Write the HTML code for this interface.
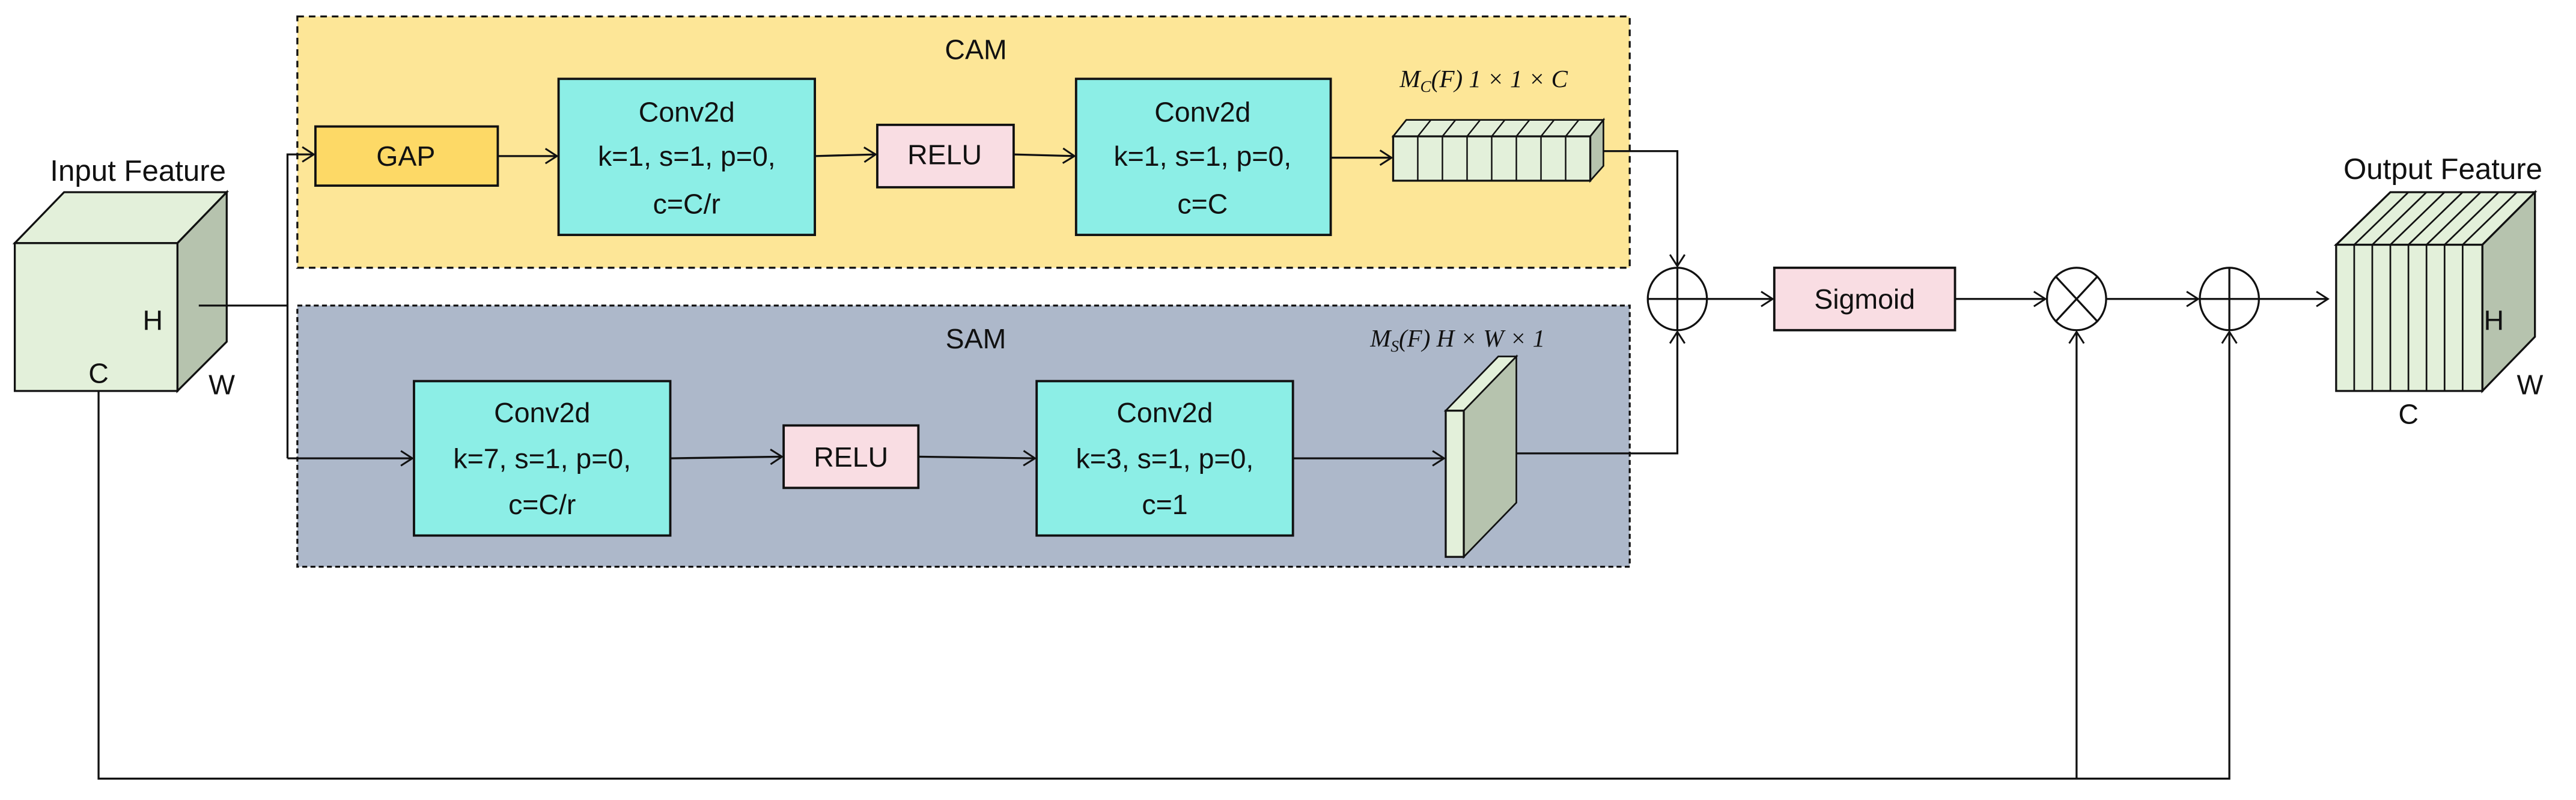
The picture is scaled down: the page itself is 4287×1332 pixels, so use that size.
<!DOCTYPE html>
<html><head><meta charset="utf-8"><style>
html,body{margin:0;padding:0;background:#fff;}
svg{display:block;}
text{font-family:"Liberation Sans",sans-serif;fill:#111;}
.m{font-family:"Liberation Serif",serif;font-style:italic;}
</style></head><body>
<svg width="4287" height="1332" viewBox="0 0 1568 487" preserveAspectRatio="none" xmlns="http://www.w3.org/2000/svg">
<defs>
<marker id="a" markerWidth="10" markerHeight="10" refX="8" refY="5" orient="auto" markerUnits="userSpaceOnUse">
<path d="M1,0.5 L8,5 L1,9.5" fill="none" stroke="#111" stroke-width="1.1"/>
</marker>
</defs>
<g stroke="#111" stroke-width="1.2">
<rect x="181" y="10" width="811" height="153" fill="#fde697" stroke-dasharray="4,3"/>
<rect x="181" y="186" width="811" height="159" fill="#adb8ca" stroke-dasharray="3,2"/>
<polygon points="9,148 39,117 138,117 108,148" fill="#e3f0da"/>
<polygon points="108,148 138,117 138,208 108,238" fill="#b6c3ae"/>
<rect x="9" y="148" width="99" height="90" fill="#e3f0da"/>
<rect x="192" y="77" width="111" height="36" fill="#fdd966" stroke-width="1.4"/>
<rect x="340" y="48" width="156" height="95" fill="#8ceee6" stroke-width="1.4"/>
<rect x="534" y="76" width="83" height="38" fill="#f9dde3" stroke-width="1.4"/>
<rect x="655" y="48" width="155" height="95" fill="#8ceee6" stroke-width="1.4"/>
<rect x="252" y="232" width="156" height="94" fill="#8ceee6" stroke-width="1.4"/>
<rect x="477" y="259" width="82" height="38" fill="#f9dde3" stroke-width="1.4"/>
<rect x="631" y="232" width="156" height="94" fill="#8ceee6" stroke-width="1.4"/>
<rect x="1080" y="163" width="110" height="38" fill="#f9dde3" stroke-width="1.4"/>
<polygon points="848,83 856,73 976,73 968,83" fill="#e3f0da" stroke-width="1"/>
<polygon points="968,83 976,73 976,101 968,110" fill="#b6c3ae" stroke-width="1"/>
<rect x="848" y="83" width="120" height="27" fill="#e3f0da" stroke-width="1.2"/>
<g stroke-width="0.9">
<line x1="863" y1="83" x2="863" y2="110"/><line x1="878" y1="83" x2="878" y2="110"/><line x1="893" y1="83" x2="893" y2="110"/><line x1="908" y1="83" x2="908" y2="110"/><line x1="923" y1="83" x2="923" y2="110"/><line x1="938" y1="83" x2="938" y2="110"/><line x1="953" y1="83" x2="953" y2="110"/>
<line x1="863" y1="83" x2="871" y2="73"/><line x1="878" y1="83" x2="886" y2="73"/><line x1="893" y1="83" x2="901" y2="73"/><line x1="908" y1="83" x2="916" y2="73"/><line x1="923" y1="83" x2="931" y2="73"/><line x1="938" y1="83" x2="946" y2="73"/><line x1="953" y1="83" x2="961" y2="73"/>
</g>
<polygon points="880,250 891,250 923,217 912,217" fill="#e3f0da" stroke-width="1"/>
<polygon points="891,250 923,217 923,306 891,339" fill="#b6c3ae" stroke-width="1"/>
<rect x="880" y="250" width="11" height="89" fill="#e3f0da"/>
<polygon points="1422,149 1455,117 1543,117 1511,149" fill="#e3f0da"/>
<polygon points="1511,149 1543,117 1543,205 1511,238" fill="#b6c3ae"/>
<rect x="1422" y="149" width="89" height="89" fill="#e3f0da"/>
<g stroke-width="1">
<line x1="1433" y1="149" x2="1433" y2="238"/><line x1="1444" y1="149" x2="1444" y2="238"/><line x1="1455" y1="149" x2="1455" y2="238"/><line x1="1466" y1="149" x2="1466" y2="238"/><line x1="1477" y1="149" x2="1477" y2="238"/><line x1="1488" y1="149" x2="1488" y2="238"/><line x1="1499" y1="149" x2="1499" y2="238"/>
<line x1="1433" y1="149" x2="1466" y2="117"/><line x1="1444" y1="149" x2="1477" y2="117"/><line x1="1455" y1="149" x2="1488" y2="117"/><line x1="1466" y1="149" x2="1499" y2="117"/><line x1="1477" y1="149" x2="1510" y2="117"/><line x1="1488" y1="149" x2="1521" y2="117"/><line x1="1499" y1="149" x2="1532" y2="117"/>
</g>
<ellipse cx="1021" cy="182" rx="18" ry="19" fill="#fff"/>
<line x1="1003" y1="182" x2="1039" y2="182"/><line x1="1021" y1="163" x2="1021" y2="201"/>
<ellipse cx="1264" cy="182" rx="18" ry="19" fill="#fff"/>
<line x1="1251" y1="168" x2="1277" y2="196"/><line x1="1277" y1="168" x2="1251" y2="196"/>
<ellipse cx="1357" cy="182" rx="18" ry="19" fill="#fff"/>
<line x1="1339" y1="182" x2="1375" y2="182"/><line x1="1357" y1="163" x2="1357" y2="201"/>
</g>
<g stroke="#111" stroke-width="1.2" fill="none">
<polyline points="121,186 175,186"/>
<polyline points="175,279 175,94 191,94" marker-end="url(#a)"/>
<polyline points="175,279 251,279" marker-end="url(#a)"/>
<line x1="303" y1="95" x2="339" y2="95" marker-end="url(#a)"/>
<line x1="496" y1="95" x2="533" y2="94" marker-end="url(#a)"/>
<line x1="617" y1="94" x2="654" y2="95" marker-end="url(#a)"/>
<line x1="810" y1="96" x2="847" y2="96" marker-end="url(#a)"/>
<polyline points="976,92 1021,92 1021,162" marker-end="url(#a)"/>
<line x1="408" y1="279" x2="476" y2="278" marker-end="url(#a)"/>
<line x1="559" y1="278" x2="630" y2="279" marker-end="url(#a)"/>
<line x1="787" y1="279" x2="879" y2="279" marker-end="url(#a)"/>
<polyline points="923,276 1021,276 1021,202" marker-end="url(#a)"/>
<line x1="1039" y1="182" x2="1079" y2="182" marker-end="url(#a)"/>
<line x1="1190" y1="182" x2="1245" y2="182" marker-end="url(#a)"/>
<line x1="1282" y1="182" x2="1338" y2="182" marker-end="url(#a)"/>
<line x1="1375" y1="182" x2="1417" y2="182" marker-end="url(#a)"/>
<polyline points="60,238 60,474 1357,474 1357,202" marker-end="url(#a)"/>
<polyline points="1264,474 1264,202" marker-end="url(#a)"/>
</g>
<g font-size="17" text-anchor="middle">
<text x="84" y="110" font-size="18">Input Feature</text>
<text x="1487" y="109" font-size="18">Output Feature</text>
<text x="93" y="201">H</text>
<text x="60" y="233">C</text>
<text x="135" y="240">W</text>
<text x="1518" y="201">H</text>
<text x="1540" y="240">W</text>
<text x="1466" y="258">C</text>
<text x="594" y="36">CAM</text>
<text x="594" y="212">SAM</text>
<text x="247" y="101">GAP</text>
<text x="575" y="100">RELU</text>
<text x="518" y="284">RELU</text>
<text x="1135" y="188">Sigmoid</text>
<text x="418" y="74">Conv2d</text><text x="418" y="101">k=1, s=1, p=0,</text><text x="418" y="130">c=C/r</text>
<text x="732" y="74">Conv2d</text><text x="732" y="101">k=1, s=1, p=0,</text><text x="732" y="130">c=C</text>
<text x="330" y="257">Conv2d</text><text x="330" y="285">k=7, s=1, p=0,</text><text x="330" y="313">c=C/r</text>
<text x="709" y="257">Conv2d</text><text x="709" y="285">k=3, s=1, p=0,</text><text x="709" y="313">c=1</text>
</g>
<g font-size="15">
<text x="852" y="53" class="m">M<tspan font-size="10" dy="3">C</tspan><tspan dy="-3">(F) 1 × 1 × C</tspan></text>
<text x="834" y="211" class="m">M<tspan font-size="10" dy="3">S</tspan><tspan dy="-3">(F) H × W × 1</tspan></text>
</g>
</svg>
</body></html>
